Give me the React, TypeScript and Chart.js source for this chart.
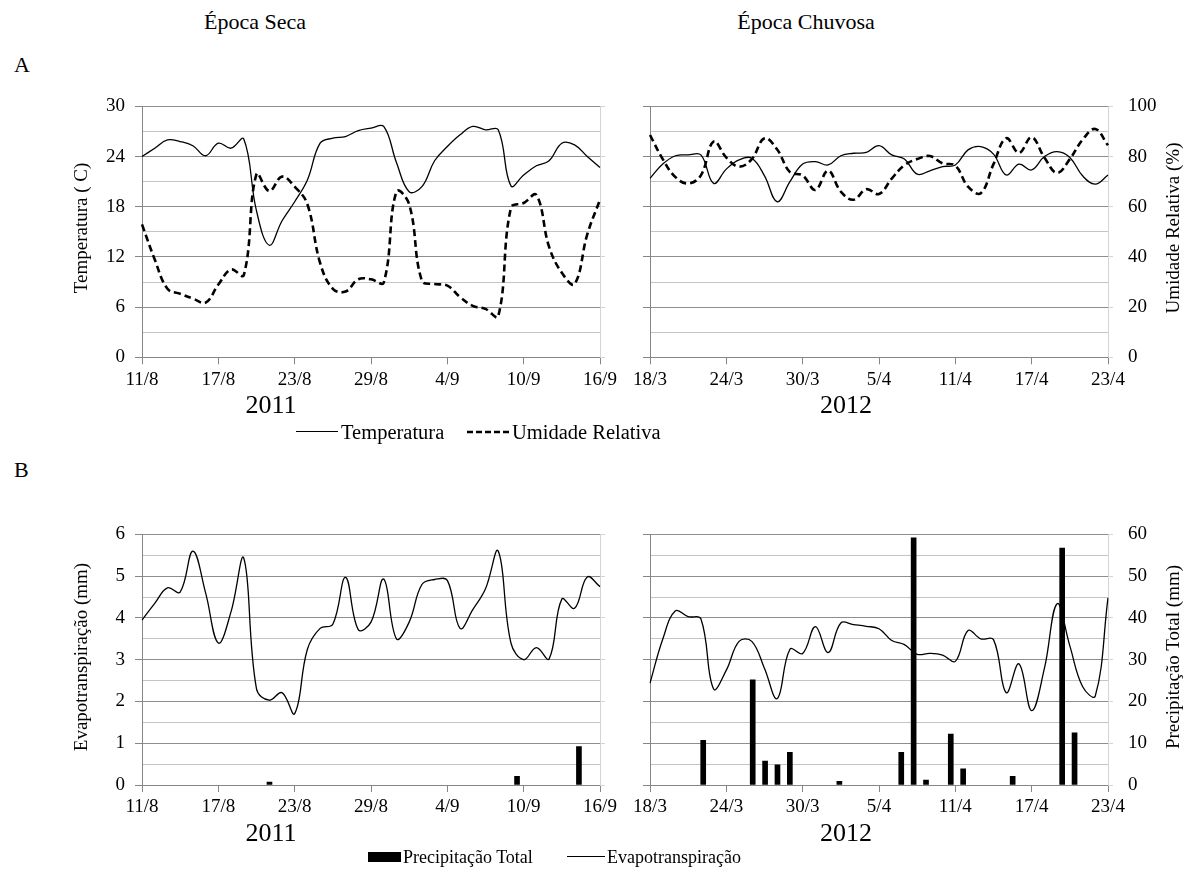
import React, { useEffect, useRef } from 'react';
import { Chart, registerables } from 'chart.js';

Chart.register(...registerables);

const FONT = "'Liberation Serif', 'Times New Roman', serif";
const AXIS = '#868686';
const MAJOR = '#8e8e8e';
const MINOR = '#c4c4c4';
const LIGHT = '#d4d4d4';

// ---------- categories ----------
const datesDry = [
  '11/8', '12/8', '13/8', '14/8', '15/8', '16/8', '17/8', '18/8', '19/8', '20/8',
  '21/8', '22/8', '23/8', '24/8', '25/8', '26/8', '27/8', '28/8', '29/8', '30/8',
  '31/8', '1/9', '2/9', '3/9', '4/9', '5/9', '6/9', '7/9', '8/9', '9/9',
  '10/9', '11/9', '12/9', '13/9', '14/9', '15/9', '16/9',
];
const datesRainy = [
  '18/3', '19/3', '20/3', '21/3', '22/3', '23/3', '24/3', '25/3', '26/3', '27/3',
  '28/3', '29/3', '30/3', '31/3', '1/4', '2/4', '3/4', '4/4', '5/4', '6/4',
  '7/4', '8/4', '9/4', '10/4', '11/4', '12/4', '13/4', '14/4', '15/4', '16/4',
  '17/4', '18/4', '19/4', '20/4', '21/4', '22/4', '23/4',
];

// ---------- series: panel A ----------
const tempDry = [
  24.0, 25.0, 26.0, 25.8, 25.3, 24.1, 25.6, 25.0, 26.1, 17.5,
  13.4, 16.3, 18.6, 21.2, 25.6, 26.2, 26.4, 27.1, 27.4, 27.6,
  23.3, 19.8, 20.4, 23.5, 25.2, 26.6, 27.6, 27.2, 27.2, 20.5,
  21.8, 22.9, 23.5, 25.6, 25.4, 24.0, 22.7,
];
const rhDry = [
  53, 39, 27.3, 25.3, 23.4, 21.8, 29, 35, 32.7, 73,
  66.3, 72, 68, 61, 37.6, 27.3, 26.2, 31.1, 31.1, 29.8,
  66, 61, 30.5, 29.2, 28.6, 24, 20.5, 19.3, 16.3, 59.6,
  61.5, 64.7, 44, 33.7, 29.2, 49, 62.8,
];
const tempRainy = [
  21.4, 23.1, 24.1, 24.2, 24.2, 20.8, 22.5, 23.6, 23.8, 21.7,
  18.6, 21.0, 23.1, 23.4, 23.0, 24.1, 24.4, 24.5, 25.3, 24.2,
  23.7, 21.9, 22.3, 22.8, 23.0, 24.8, 25.2, 24.3, 21.8, 23.1,
  22.4, 24.0, 24.6, 23.9, 21.7, 20.7, 21.8,
];
const rhRainy = [
  88.6, 79, 71.8, 69.3, 72.5, 86, 79.6, 76, 79, 87.3,
  82.8, 73.8, 72.5, 66.7, 74.4, 66, 62.8, 67, 65.1, 71.2,
  76.6, 79, 80.2, 77.3, 76.4, 68, 65.4, 77, 87.3, 81.5,
  87.7, 79.6, 73.5, 79, 86.7, 91, 84.5,
];

// ---------- series: panel B ----------
const evapDry = [
  3.95, 4.35, 4.72, 4.62, 5.6, 4.6, 3.4, 4.15, 5.43, 2.3,
  2.03, 2.21, 1.71, 3.25, 3.75, 3.85, 4.97, 3.72, 3.9, 4.93,
  3.5, 3.9, 4.8, 4.92, 4.9, 3.75, 4.2, 4.7, 5.6, 3.4,
  3.0, 3.29, 3.02, 4.45, 4.23, 4.98, 4.75,
];
const precipDry = [
  null, null, null, null, null, null, null, null, null, null,
  0.7, null, null, null, null, null, null, null, null, null,
  null, null, null, null, null, null, null, null, null, null,
  2.1, null, null, null, null, 9.2, null,
];
const evapRainy = [
  2.44, 3.49, 4.17, 4.03, 3.98, 2.3, 2.75, 3.44, 3.44, 2.79,
  2.07, 3.25, 3.15, 3.79, 3.17, 3.88, 3.84, 3.8, 3.74, 3.46,
  3.36, 3.13, 3.15, 3.11, 2.96, 3.7, 3.5, 3.48, 2.21, 2.9,
  1.78, 2.79, 4.34, 3.33, 2.36, 2.13, 4.48,
];
const precipRainy = [
  null, null, null, null, 10.7, null, null, null, 25.2, 5.7,
  4.8, 7.8, null, null, null, 0.9, null, null, null, null,
  7.8, 59.2, 1.2, null, 12.2, 3.9, null, null, null, 2.1,
  null, null, null, 56.7, 12.5, null, null,
];

const seasonTitles = ['Época Seca', 'Época Chuvosa'];
const yearLabels = ['2011', '2012'];
const panelLetters = ['A', 'B'];
const axisTitlesA = ['Temperatura ( C)', 'Umidade Relativa (%)'];
const axisTitlesB = ['Evapotranspiração (mm)', 'Precipitação Total (mm)'];
const legendA = ['Temperatura', 'Umidade Relativa'];
const legendB = ['Precipitação Total', 'Evapotranspiração'];

type AxisSpec = { max: number; step: number; major: number; labels: boolean };
type PanelSpec = {
  left: number; top: number; width: number; height: number;
  plotLeft: number; plotRight: number; plotTop: number; plotBottom: number;
  labels: string[];
  y: AxisSpec; y1: AxisSpec;
  datasets: any[];
};

const isMajor = (v: number, m: number) => Math.abs(v / m - Math.round(v / m)) < 1e-6;

function buildConfig(p: PanelSpec): any {
  const yWidth = p.plotLeft - p.left;
  const y1Width = p.left + p.width - p.plotRight;
  const xHeight = p.top + p.height - p.plotBottom;
  const padTop = p.plotTop - p.top;
  const tickFont = { family: FONT, size: 19 };
  return {
    type: 'line',
    data: { labels: p.labels, datasets: p.datasets },
    options: {
      responsive: false,
      animation: false,
      devicePixelRatio: 1,
      layout: { padding: { top: padTop, left: 0, right: 0, bottom: 0 } },
      plugins: { legend: { display: false }, tooltip: { enabled: false } },
      scales: {
        x: {
          type: 'category',
          position: 'bottom',
          offset: false,
          afterFit: (s: any) => { s.height = xHeight; },
          grid: {
            drawOnChartArea: false,
            drawTicks: true,
            tickLength: 7,
            color: (c: any) => (c.index % 6 === 0 ? AXIS : 'rgba(0,0,0,0)'),
            tickColor: (c: any) => (c.index % 6 === 0 ? AXIS : 'rgba(0,0,0,0)'),
          },
          border: { display: true, color: AXIS, width: 1 },
          ticks: {
            autoSkip: false,
            maxRotation: 0,
            minRotation: 0,
            padding: 4,
            color: '#000',
            font: tickFont,
            callback: (_v: any, i: number) => (i % 6 === 0 ? p.labels[i] : ''),
          },
        },
        xb: { type: 'category', offset: true, display: false },
        y: {
          type: 'linear',
          position: 'left',
          min: 0,
          max: p.y.max,
          afterFit: (s: any) => { s.width = yWidth; },
          grid: {
            color: (c: any) => (isMajor(c.tick.value, p.y.major) ? MAJOR : MINOR),
            tickColor: (c: any) => (isMajor(c.tick.value, p.y.major) ? AXIS : 'rgba(0,0,0,0)'),
            tickLength: 7,
            lineWidth: 1,
          },
          border: { display: true, color: AXIS, width: 1 },
          ticks: {
            stepSize: p.y.step,
            autoSkip: false,
            padding: 10,
            color: '#000',
            font: tickFont,
            callback: (v: number) => (p.y.labels && isMajor(v, p.y.major) ? String(v) : ''),
          },
        },
        y1: {
          type: 'linear',
          position: 'right',
          min: 0,
          max: p.y1.max,
          afterFit: (s: any) => { s.width = y1Width; },
          grid: {
            drawOnChartArea: false,
            color: (c: any) => (isMajor(c.tick.value, p.y1.major) ? LIGHT : 'rgba(0,0,0,0)'),
            tickColor: (c: any) => (isMajor(c.tick.value, p.y1.major) ? LIGHT : 'rgba(0,0,0,0)'),
            tickLength: 5,
          },
          border: { display: true, color: LIGHT, width: 1 },
          ticks: {
            stepSize: p.y1.step,
            autoSkip: false,
            padding: 15,
            color: '#000',
            font: tickFont,
            callback: (v: number) => (p.y1.labels && isMajor(v, p.y1.major) ? String(v) : ''),
          },
        },
      },
    },
  };
}

function ChartPanel({ spec }: { spec: PanelSpec }) {
  const ref = useRef<HTMLCanvasElement | null>(null);
  useEffect(() => {
    if (!ref.current) return;
    const chart = new Chart(ref.current, buildConfig(spec));
    return () => chart.destroy();
  }, [spec]);
  return (
    <canvas
      ref={ref}
      width={spec.width}
      height={spec.height}
      style={{ position: 'absolute', left: spec.left, top: spec.top, width: spec.width, height: spec.height }}
    />
  );
}

const solid = (data: number[], axis: string) => ({
  type: 'line', data, xAxisID: 'x', yAxisID: axis, borderColor: '#000', borderWidth: 1.3,
  pointRadius: 0, tension: 0.4, fill: false, order: 0,
});
const dashed = (data: number[], axis: string) => ({
  type: 'line', data, xAxisID: 'x', yAxisID: axis, borderColor: '#000', borderWidth: 2.6,
  borderDash: [7, 4], pointRadius: 0, tension: 0.4, fill: false, order: 0,
});
const bars = (data: (number | null)[]) => ({
  type: 'bar', data, xAxisID: 'xb', yAxisID: 'y1', backgroundColor: '#000', borderWidth: 0,
  barThickness: 5, order: 1,
});

const axA = { y: { max: 30, step: 3, major: 6 }, y1: { max: 100, step: 10, major: 20 } };
const axB = { y: { max: 6, step: 0.5, major: 1 }, y1: { max: 60, step: 5, major: 10 } };

const specs: PanelSpec[] = [
  {
    left: 0, top: 80, width: 625, height: 320,
    plotLeft: 142, plotRight: 600, plotTop: 99.5, plotBottom: 357.3,
    labels: datesDry,
    y: { ...axA.y, labels: true }, y1: { ...axA.y1, labels: false },
    datasets: [solid(tempDry, 'y'), dashed(rhDry, 'y1')],
  },
  {
    left: 625, top: 80, width: 560, height: 320,
    plotLeft: 650, plotRight: 1108, plotTop: 99.5, plotBottom: 357.3,
    labels: datesRainy,
    y: { ...axA.y, labels: false }, y1: { ...axA.y1, labels: true },
    datasets: [solid(tempRainy, 'y'), dashed(rhRainy, 'y1')],
  },
  {
    left: 0, top: 508, width: 625, height: 320,
    plotLeft: 142, plotRight: 600, plotTop: 527.7, plotBottom: 785,
    labels: datesDry,
    y: { ...axB.y, labels: true }, y1: { ...axB.y1, labels: false },
    datasets: [bars(precipDry), solid(evapDry, 'y')],
  },
  {
    left: 625, top: 508, width: 560, height: 320,
    plotLeft: 650, plotRight: 1108, plotTop: 527.7, plotBottom: 785,
    labels: datesRainy,
    y: { ...axB.y, labels: false }, y1: { ...axB.y1, labels: true },
    datasets: [bars(precipRainy), solid(evapRainy, 'y')],
  },
];

const baseText = { position: 'absolute', fontFamily: FONT, color: '#000', whiteSpace: 'nowrap', lineHeight: 1 } as const;

const txt = (k: string, s: string, x: number, y: number, size: number) => (
  <div key={k} style={{ ...baseText, left: x, top: y, fontSize: size, transform: 'translate(-50%, -50%)' }}>{s}</div>
);
const vtxt = (k: string, s: string, x: number, y: number, size: number) => (
  <div key={k} style={{ ...baseText, left: x, top: y, fontSize: size, transform: 'translate(-50%, -50%) rotate(-90deg)' }}>{s}</div>
);
const ltxt = (k: string, s: string, x: number, y: number, size: number) => (
  <div key={k} style={{ ...baseText, left: x, top: y, fontSize: size, transform: 'translateY(-50%)' }}>{s}</div>
);

export default function App() {
  return (
    <div style={{ position: 'absolute', left: 0, top: 0, width: 1185, height: 895, background: '#fff', overflow: 'hidden' }}>
      {specs.map((s, i) => <ChartPanel key={i} spec={s} />)}

      {txt('t0', seasonTitles[0], 255, 22, 22)}
      {txt('t1', seasonTitles[1], 806, 22, 22)}
      {ltxt('pA', panelLetters[0], 14, 65, 22)}
      {ltxt('pB', panelLetters[1], 14, 470, 22)}

      {vtxt('a0', axisTitlesA[0], 80, 228, 19)}
      {vtxt('a1', axisTitlesA[1], 1172, 228, 19)}
      {vtxt('b0', axisTitlesB[0], 80, 657, 19)}
      {vtxt('b1', axisTitlesB[1], 1172, 657, 19)}

      {txt('y0', yearLabels[0], 271, 405, 26)}
      {txt('y1', yearLabels[1], 846, 405, 26)}
      {txt('y2', yearLabels[0], 271, 833, 26)}
      {txt('y3', yearLabels[1], 846, 833, 26)}

      {/* legend A */}
      <div style={{ position: 'absolute', left: 296, top: 431, width: 42, height: 0, borderTop: '1.3px solid #000' }} />
      {ltxt('lA0', legendA[0], 341, 432, 20.5)}
      <svg style={{ position: 'absolute', left: 467, top: 427 }} width={44} height={10}>
        <line x1={0} y1={5} x2={44} y2={5} stroke="#000" strokeWidth={2.6} strokeDasharray="6,3" />
      </svg>
      {ltxt('lA1', legendA[1], 512, 432, 20.5)}

      {/* legend B */}
      <div style={{ position: 'absolute', left: 368, top: 852, width: 33, height: 10, background: '#000' }} />
      {ltxt('lB0', legendB[0], 403, 857, 18)}
      <div style={{ position: 'absolute', left: 567, top: 856, width: 38, height: 0, borderTop: '1.3px solid #000' }} />
      {ltxt('lB1', legendB[1], 607, 857, 18)}
    </div>
  );
}
